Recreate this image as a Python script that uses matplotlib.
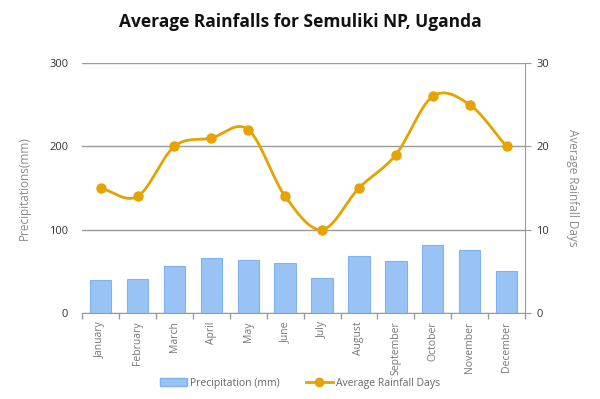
import numpy as np
import matplotlib
matplotlib.use("Agg")
import matplotlib.pyplot as plt
from matplotlib.lines import Line2D
from matplotlib.patches import Patch

months = ["January", "February", "March", "April", "May", "June", "July",
          "August", "September", "October", "November", "December"]
precip = [40, 41, 56, 66, 64, 60, 42, 68, 63, 82, 76, 50]
rain_days = [15, 14, 20, 21, 22, 14, 10, 15, 19, 26, 25, 20]
left_ticks = [0, 100, 200, 300]
right_ticks = [0, 10, 20, 30]

plt.rcParams['font.family'] = ['Open Sans', 'DejaVu Sans']

bar_color = "#99c3f5"
bar_edge = "#7eb2f0"
line_color = "#e6a200"
grid_color = "#9a9a9a"
label_gray = "#8a8a8a"


def catmull_rom(x, y, n=30):
    x = np.asarray(x, float)
    y = np.asarray(y, float)
    px = np.concatenate([[2 * x[0] - x[1]], x, [2 * x[-1] - x[-2]]])
    py = np.concatenate([[2 * y[0] - y[1]], y, [2 * y[-1] - y[-2]]])
    xs, ys = [], []
    t = np.linspace(0, 1, n, endpoint=False)
    for i in range(1, len(px) - 2):
        for P, out in ((px, xs), (py, ys)):
            p0, p1, p2, p3 = P[i - 1], P[i], P[i + 1], P[i + 2]
            m1 = (p2 - p0) / 2
            m2 = (p3 - p1) / 2
            h00 = 2 * t**3 - 3 * t**2 + 1
            h10 = t**3 - 2 * t**2 + t
            h01 = -2 * t**3 + 3 * t**2
            h11 = t**3 - t**2
            out.extend(h00 * p1 + h10 * m1 + h01 * p2 + h11 * m2)
    xs.append(x[-1])
    ys.append(y[-1])
    return np.array(xs), np.array(ys)


fig = plt.figure(figsize=(6, 3.99), dpi=100)
ax = fig.add_axes([0.137, 0.2155, 0.738, 0.6265])
x = np.arange(len(months))

ax.bar(x, precip, width=0.58, color=bar_color, edgecolor=bar_edge, linewidth=0.8, zorder=2)
ax.set_ylim(0, 300)
ax.set_xlim(-0.5, len(months) - 0.5)
ax.set_yticks(left_ticks)
ax.yaxis.grid(True, color=grid_color, linewidth=1.0, zorder=0)
ax.set_axisbelow(True)
ax.tick_params(axis='y', length=0, labelsize=8, labelcolor="#333333", pad=10)

ax.set_xticks(x)
ax.set_xticklabels(months, rotation=90, fontsize=7.5, color="#777777")
ax.set_xticks(np.arange(-0.5, len(months)), minor=True)
ax.tick_params(axis='x', which='major', length=0, pad=6)
ax.tick_params(axis='x', which='minor', length=4, color=grid_color, width=1)

for s in ("left", "top", "right"):
    ax.spines[s].set_visible(False)
ax.spines["bottom"].set_color(grid_color)
ax.set_ylabel("Precipitations(mm)", color=label_gray, fontsize=8.5, labelpad=13)

ax2 = ax.twinx()
ax2.set_ylim(0, 30)
ax2.set_yticks(right_ticks)
sx, sy = catmull_rom(x, rain_days)
ax2.plot(sx, sy, color=line_color, linewidth=2.0, zorder=3)
ax2.plot(x, rain_days, 'o', color=line_color, markersize=6.5, zorder=4)
for s in ("left", "top", "bottom"):
    ax2.spines[s].set_visible(False)
ax2.spines["right"].set_color(grid_color)
ax2.tick_params(axis='y', length=4, color=grid_color, labelsize=8, labelcolor="#333333", pad=4)
ax2.set_ylabel("Average Rainfall Days", color=label_gray, fontsize=8.5, rotation=270, labelpad=22)

fig.text(0.5, 0.945, "Average Rainfalls for Semuliki NP, Uganda", ha="center", va="center",
         fontsize=12.5, fontweight="bold", color="#111111")

handles = [Patch(facecolor=bar_color, edgecolor=bar_edge, label="Precipitation (mm)"),
           Line2D([0], [0], color=line_color, linewidth=2.0, marker='o', markersize=6,
                  label="Average Rainfall Days")]
leg = fig.legend(handles=handles, loc="center", bbox_to_anchor=(0.5, 0.04), ncol=2,
                 frameon=False, fontsize=7.5, handlelength=2.6, columnspacing=2.5,
                 handletextpad=0.3)
for t in leg.get_texts():
    t.set_color("#666666")

fig.savefig("out.png", dpi=100)
